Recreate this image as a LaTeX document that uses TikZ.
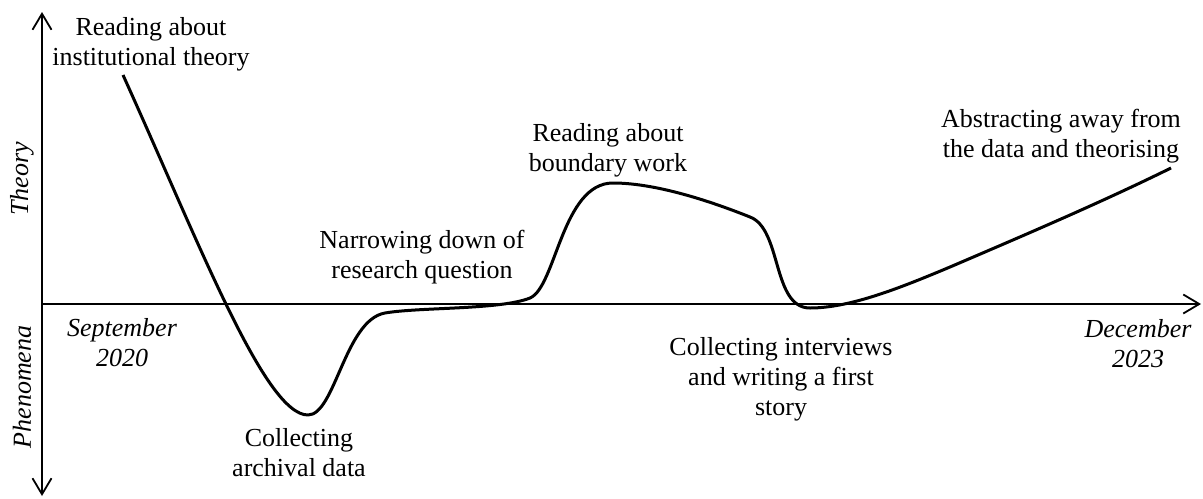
\documentclass[tikz,border=0pt]{standalone}
\usepackage{fontspec}
\setmainfont{Liberation Serif}
\usetikzlibrary{arrows.meta}

\tikzset{
  axisline/.style={line width=1pt, {Straight Barb[length=8pt,width=9.5pt,line width=0.9pt]}-{Straight Barb[length=8pt,width=9.5pt,line width=0.9pt]}},
  axisright/.style={line width=1pt, -{Straight Barb[length=8pt,width=9.5pt,line width=0.9pt]}},
  journey/.style={line width=1.5pt, line join=round},
  % anchored at the baseline of the last line
  phase/.style={align=center, anchor=base, inner sep=0pt, font=\fontsize{13}{15}\selectfont},
  datelabel/.style={phase, font=\fontsize{13}{15}\selectfont\itshape},
  axislabel/.style={rotate=90, inner sep=0pt, font=\fontsize{13}{15}\selectfont\itshape}
}

\begin{document}
\begin{tikzpicture}[x=0.5pt, y=-0.5pt]
  \useasboundingbox (0,0) rectangle (1203,498);

  % axes
  \coordinate (ytop) at (42,12);
  \coordinate (ybot) at (42,496);
  \coordinate (xorg) at (42,304);
  \coordinate (xend) at (1201,304);
  \draw[axisline] (ybot) -- (ytop);
  \draw[axisright] (xorg) -- (xend);

  \node[axislabel] (theory) at (22,179) {Theory};
  \node[axislabel] (phen) at (22,387) {Phenomena};

  % research trajectory
  \coordinate (s0) at (123,75);
  \coordinate (s1) at (308,415);
  \coordinate (s2) at (385,313);
  \coordinate (s3) at (530,298);
  \coordinate (s4) at (613,183);
  \coordinate (s5) at (750,217);
  \coordinate (s6) at (810,308);
  \coordinate (s7) at (950,267);
  \coordinate (s8) at (1171,168);
  \draw[journey] (s0)
    .. controls (200,245) and (265,415) .. (s1)
    .. controls (335,415) and (345,320) .. (s2)
    .. controls (420,307) and (500,310) .. (s3)
    .. controls (556,287) and (562,183) .. (s4)
    .. controls (660,183) and (720,205) .. (s5)
    .. controls (782,229) and (772,308) .. (s6)
    .. controls (850,308) and (900,288) .. (s7)
    .. controls (1020,237) and (1100,203) .. (s8);

  % phase labels
  \node[phase] (p1) at (151,65) {Reading about\\institutional theory};
  \node[phase] (p2) at (299,476) {Collecting\\archival data};
  \node[phase] (p3) at (422,278) {Narrowing down of\\research question};
  \node[phase] (p4) at (608,171) {Reading about\\boundary work};
  \node[phase] (p5) at (781,415) {Collecting interviews\\and writing a first\\story};
  \node[phase] (p6) at (1061,157) {Abstracting away from\\the data and theorising};

  % time span
  \node[datelabel] (d1) at (122,366) {September\\2020};
  \node[datelabel] (d2) at (1138,367) {December\\2023};
\end{tikzpicture}
\end{document}
